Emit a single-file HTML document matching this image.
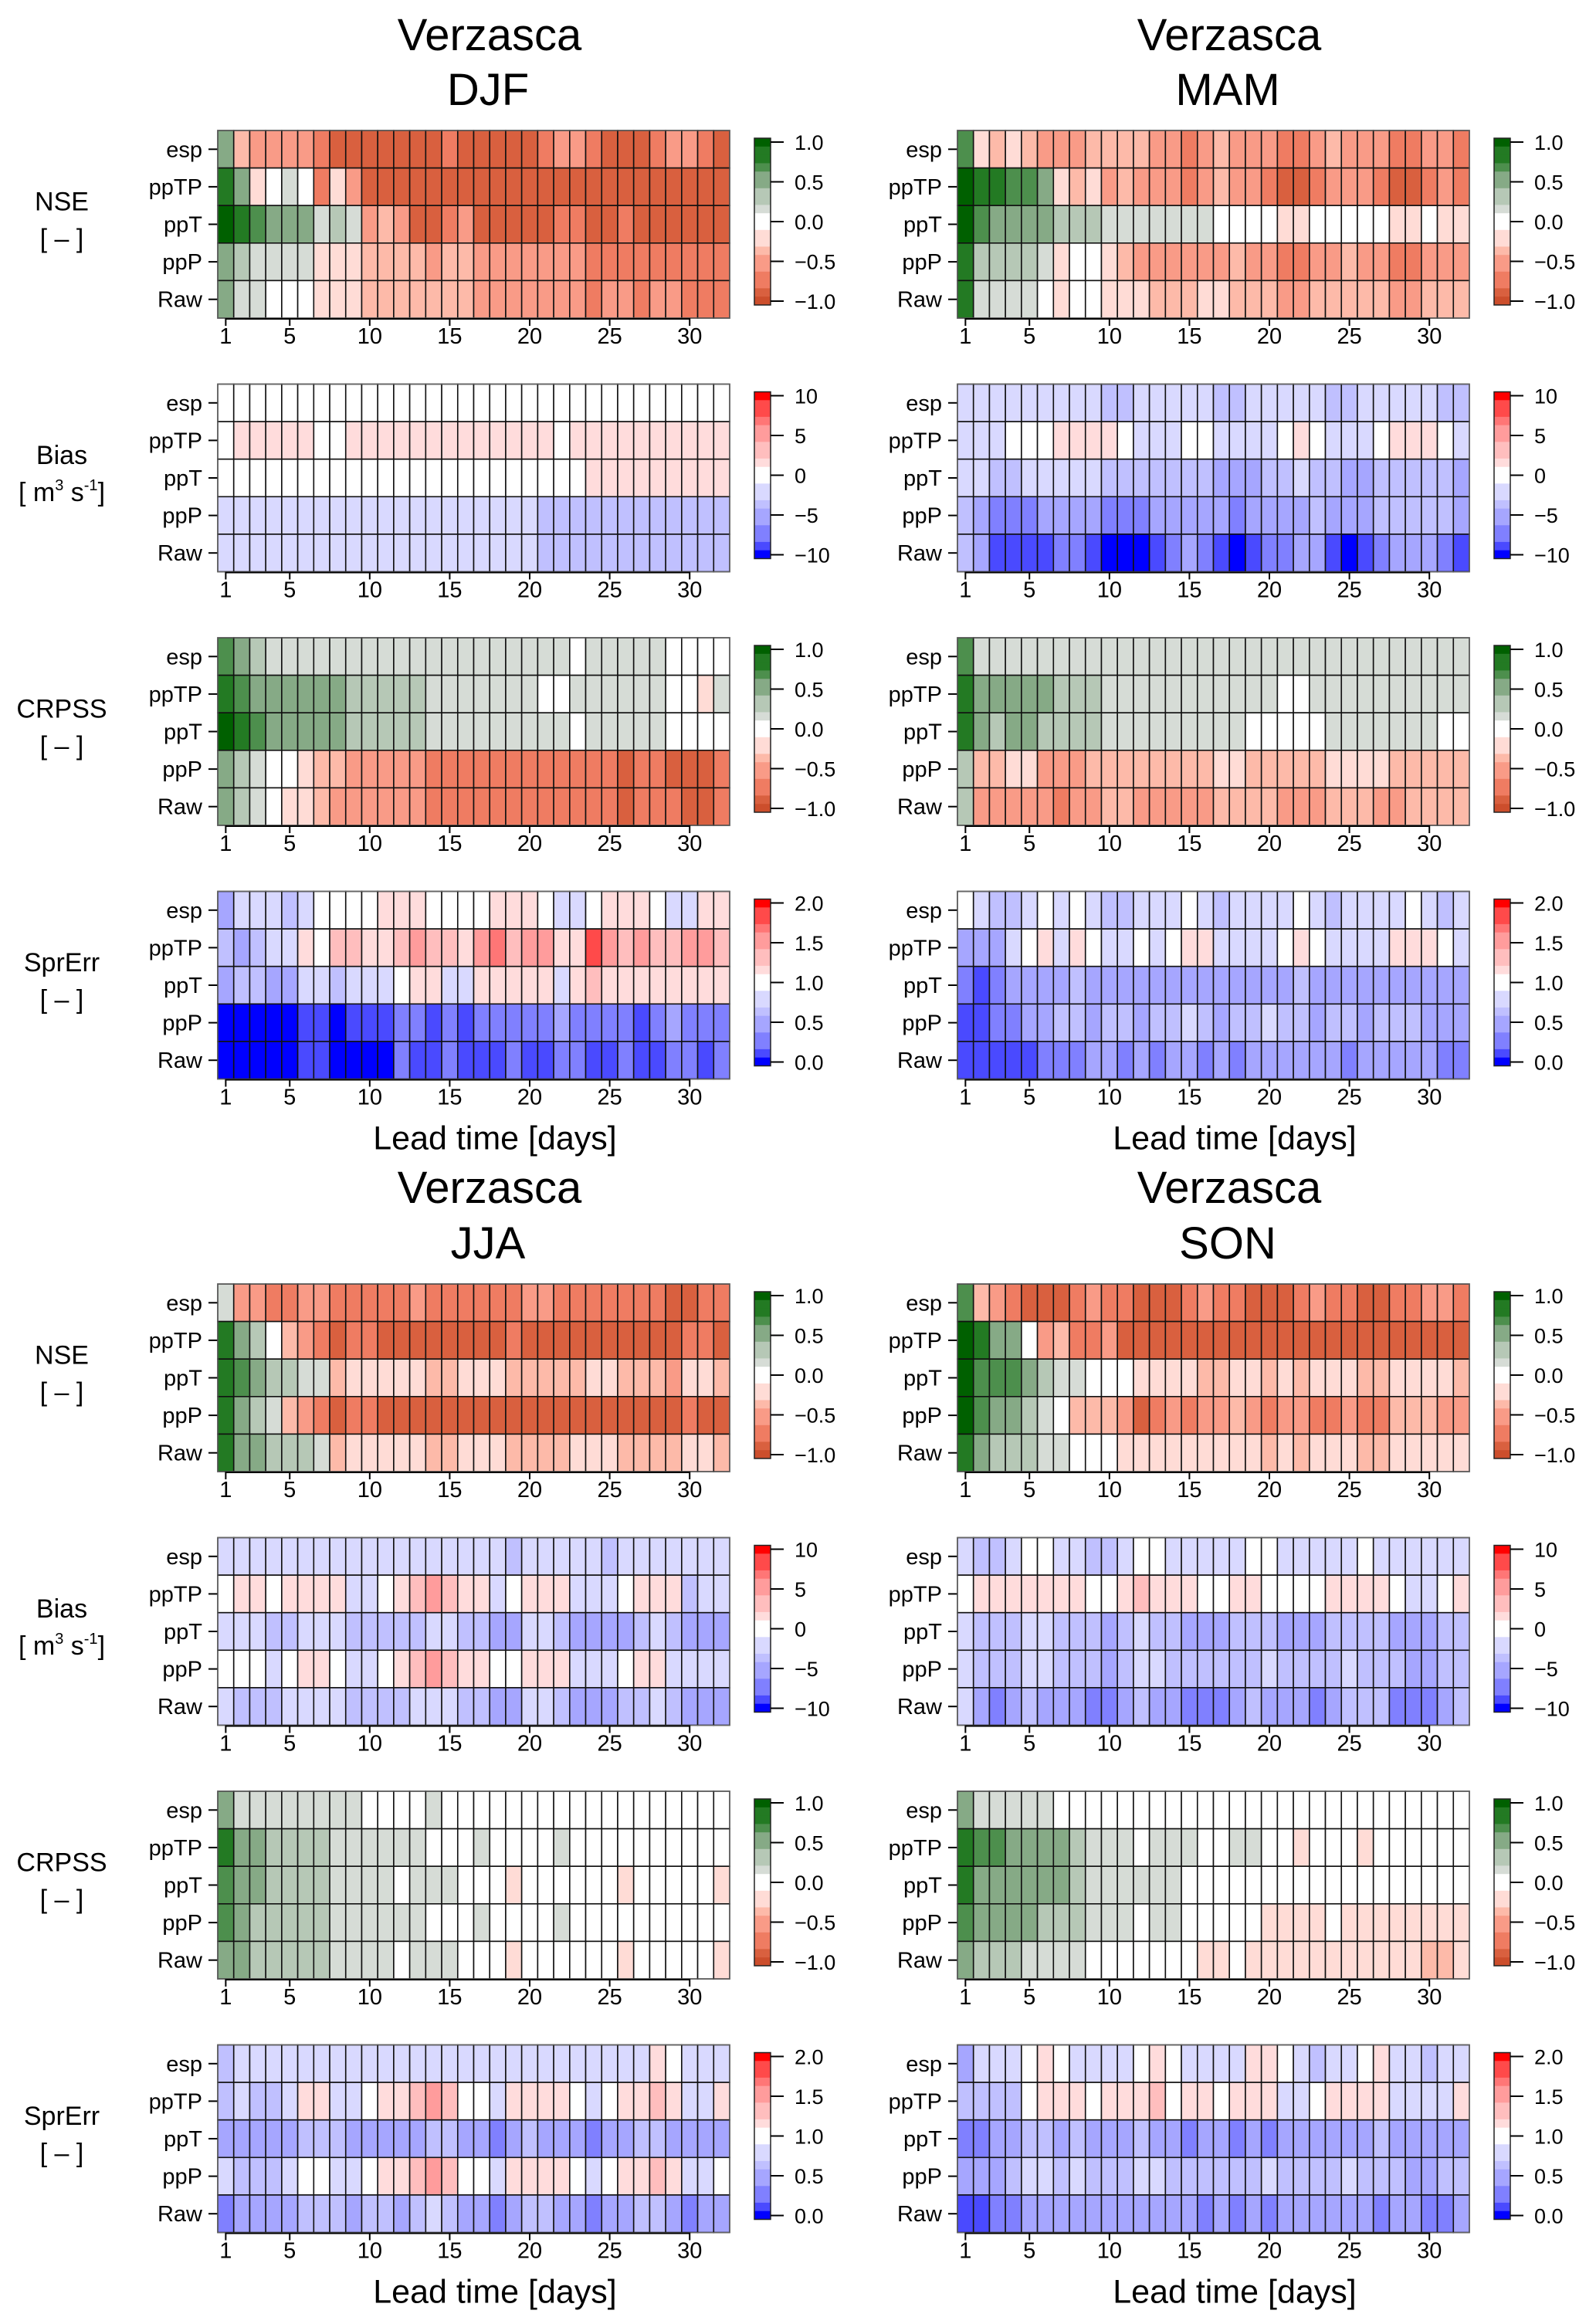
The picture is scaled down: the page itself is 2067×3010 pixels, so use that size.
<!DOCTYPE html>
<html><head><meta charset="utf-8"><title>Verzasca verification heatmaps</title>
<style>
html,body{margin:0;padding:0;background:#fff;}
svg{display:block;font-family:"Liberation Sans",Arial,sans-serif;}
</style></head>
<body>
<svg id="fig" xmlns="http://www.w3.org/2000/svg" width="2067" height="3010" viewBox="0 0 2067 3010"></svg>
<script>
// ---- data: level codes per cell ('0'..'6' positive, 'a'..'f' negative), rows esp, ppTP, ppT, ppP, Raw ----
const seasons = ["DJF", "MAM", "JJA", "SON"];
const rowNames = ["esp", "ppTP", "ppT", "ppP", "Raw"];
const leadTimes = Array.from({length: 32}, (_, i) => i + 1);
const xTickLabels = [1, 5, 10, 15, 20, 25, 30];
const metricNames = ["NSE", "Bias", "CRPSS", "SprErr"];
const nseTicks = ["1.0", "0.5", "0.0", "\u22120.5", "\u22121.0"];
const biasTicks = ["10", "5", "0", "\u22125", "\u221210"];
const sprTicks = ["2.0", "1.5", "1.0", "0.5", "0.0"];

const DJF_NSE = ["3bccccdeeeeeeedeeeeedccdeeedccde","53a010daceeeeeeeeeeeeeeeeeeeeeee","654333121cbceedceeeeeddeedeeeeee","321111aaabbbbcbbcccccccddddddddd","311000aaabbbbbbbcccccccdccdccddd"];
const DJF_BIAS = ["00000000000000000000000000000000","01111100111111111111101111111111","00000000000000000000000111111111","aaaaaaaaaaaaaaaaaaaabbbbbbbbbbbb","aaaaaaaaaaaaaaaaaaaabbbbbbbbbbbb"];
const DJF_CRPSS = ["43211111111111111111110111110000","54333333222221111111001111110 0a1".replace(/ /g,""),"65433333222221111111110111110000","32100abbcccccddddddddddddeddeeed","3210aabccccccddddddddddddedddeede"];
const DJF_SPR = ["caaaba000011100001110aa01110aa11","bcbaa10221123221342331153232 2332".replace(/ /g,""),"cbbccaabaaa011aa11111a1211111111","fffffeefeeeddededddddcddddedcdd".padEnd(32,"d"),"fffffeeffffdeedeeedeeddeedeedded"];

const MAM_NSE = ["4ababcccbbbbccdcbcccddcbcccddccd","655443abacbcccdcbccdeedcccdeedcd","6433332221111111 0000aa00000aa0aa".replace(/ /g,""),"522221a00abcccccc bccddccbccddccc".replace(/ /g,"").slice(0,32),"511110a00aaabbbaabbbccbbbbbccbbb"];
const MAM_BIAS = ["aaaaaaaaabbaaaaabbaaaaabbaaaaabb","aaa00011110aaa00aaaa010aaa01110a","aabbaaaaabbbbbbbcccbbabbccbbbbbc","bcdddccccdddcccccdccccbcccbbbbbc","bceeeeddefffedcdefeddccefedcccde"];
const MAM_CRPSS = ["41111111111111111111111111111111","53333322211111111111001111111111","53233222211111111100000111111100","2bbaacccbbbbbbbbaabbbbbaaaabbbbb","2cccccdccbbcccccbbbbcccbbbccbbbb"];
const MAM_SPR = ["0abba0a0abbaaa0abaaaa0abaaaa0aba","ccca01a10aa0a011aaaa010aaaa1110a","dedccccbcccccccccccccbcccccccccc","eeddccbbcbbcbbabcbbabbcbbcbbbccc","eeeeedddccdcdccdcdccccccdcccccdd"];

const JJA_NSE = ["1ccddccdddddcddddddccdddddddeeddd".slice(0,32),"5320bcdeddeeeeeeeedeeeeeeeeeedde","5432211baaaaabbaaabbbbbaabbbcaab","5321bcdeddeeeeeeeeeeeeeeeeeeedee","5332221baaaaabbaaabbbbaaabbbbaab"];
const JJA_BIAS = ["aaaaaaaaaaaaaaaaaabaaaaabaaaaaaa","01101111aa0123211a0111aaa0111baa","aaabbaaabbbbbaabbccaabccccbabccc","000a0110aa012321100111aaa011aaaa","abbbaaaabbbbaaabbccaabcccbbabccc"];
const JJA_CRPSS = ["31111111100001000000000000000000","53322221111110001000010000000000","4332222111101110 00a000000a00000a".replace(/ /g,""),"43222221111110001000010000000000","3322222111101110 00a000000a00000a".replace(/ /g,"")];
const JJA_SPR = ["baaaaaaaaaaaaaaaaaaaaaaaaaa10aaa","babba11aa01123200a11110a01121aa1","cccccbbbcccccbbccdcbcccdccbbcccc","abbba00aa01123200a11110a01121aa0","dccccbbbcbbcbabccdcbbccdccbbcdcc"];

const SON_NSE = ["4bcdeeedcddeeedcddeeedcddeeddccd","65330cbddceeeeeeeeeeeeeeeeeeeeee","64443211000aaaabbaababaaabbaaaab","6433210bbbcedcdccbcdccddcddbbbcc","5322211000aaaaaaaaababaaabbaaaaa"];
const SON_BIAS = ["abba00aabba00aaaaa00aaaaa0aaaaaa","0111111100121110011000011110aa01","abbbaabbbcbabbcccbbbcccbbbbcccbb","abbbaabbbcbaabbbbbbabbbbabbbccbb","acdcbcccddcbccdddcbcccdcbbbdddcb"];
const SON_CRPSS = ["31111100000000000000000000000000","544333321110111001100a000a000000","53333332111111000000000000000000","4333322211101100000aaaa0aaaaaaaa","322211110000000aa0aaaaaaaaaaabba"];
const SON_SPR = ["caaa010aaaa010aaaa110abaa01aabaa","bbbb0111011120110111aa01111aaaa1","ddccbbcbcccbccdccdcdccccccbcccccc".slice(0,32),"cccbaababbbaabbbbbbabbbbabbbccbb","eeddcccccccccccdcdcdccccccdccddcc".slice(0,32)];

const blocks = {
  DJF: [DJF_NSE, DJF_BIAS, DJF_CRPSS, DJF_SPR],
  MAM: [MAM_NSE, MAM_BIAS, MAM_CRPSS, MAM_SPR],
  JJA: [JJA_NSE, JJA_BIAS, JJA_CRPSS, JJA_SPR],
  SON: [SON_NSE, SON_BIAS, SON_CRPSS, SON_SPR]
};
// metric scales: center & half-range
const centers = [0, 0, 0, 1];
const halfRanges = [1, 10, 1, 1];

function codeToLevel(ch){
  if (ch >= "0" && ch <= "6") return +ch;
  const i = "abcdef".indexOf(ch);
  return i >= 0 ? -(i + 1) : 0;
}
function decode(rows, m){
  return rows.map(r => { const s = r.padEnd(32, r[r.length-1]).slice(0,32);
    return Array.from(s).map(ch => centers[m] + codeToLevel(ch) / 6 * halfRanges[m]); });
}

const GR_POS = ["#ffffff","#d6dcd6","#b6c8b6","#86aa86","#4d8f4d","#237a23","#006000"];
const GR_NEG = ["#ffffff","#ffdcd6","#fdbaa9","#f99b87","#ef7c62","#d9603f","#cc4e2c"];
const BR_POS = ["#ffffff","#ffdcdc","#ffbebe","#ff9c9c","#ff7676","#ff4a4a","#ff0000"];
const BR_NEG = ["#ffffff","#d9d9ff","#c0c0ff","#a6a6ff","#8080ff","#4a4aff","#0000ff"];
function colorFor(v, m){
  let L = Math.round((v - centers[m]) / halfRanges[m] * 6);
  L = Math.max(-6, Math.min(6, L));
  const green = (m === 0 || m === 2);
  if (L >= 0) return (green ? GR_POS : BR_POS)[L];
  return (green ? GR_NEG : BR_NEG)[-L];
}

const NS = "http://www.w3.org/2000/svg";
const svg = document.getElementById("fig");
function el(tag, attrs, parent, text){
  const e = document.createElementNS(NS, tag);
  for (const k in attrs) e.setAttribute(k, attrs[k]);
  if (text !== undefined) e.textContent = text;
  (parent || svg).appendChild(e);
  return e;
}

const HM_W = 663, HM_H = 243, CELL_W = HM_W / 32, CELL_H = HM_H / 5;
function xScale(left, lead){ return left + (lead - 0.5) * CELL_W; }
function yScale(top, row){ return top + row * CELL_H; }

seasons.forEach((season, si) => {
  const col = si % 2, blk = Math.floor(si / 2);
  const left = 282 + col * 958;
  const blockTop = 169 + blk * 1494;
  const g = el("g", {});
  
  
  const t1 = el("text", {x: left + 352, y: blockTop - 104 + (blk ? 0 : 0), "font-size": 58, "text-anchor": "middle"}, g, "Verzasca");
  
  
  t1.setAttribute('y', 65 + blk * 1493);
  const t2 = el("text", {x: left + 350, y: 136 + blk * 1494, "font-size": 58, "text-anchor": "middle"}, g, season);
  
  

  blocks[season].forEach((rows, m) => {
    const vals = decode(rows, m);
    const top = blockTop + m * 328.5;
    const pg = el("g", {}, g);
    
    
    vals.forEach((rowVals, r) => {
      rowVals.forEach((v, c) => {
        const rect = el("rect", {x: xScale(left, leadTimes[c]) - CELL_W/2, y: yScale(top, r), width: CELL_W, height: CELL_H, fill: colorFor(v, m), stroke: "#111", "stroke-width": 1.6}, pg);
        
        
      });
      const yc = yScale(top, r) + CELL_H / 2;
      el("line", {x1: left - 12, x2: left, y1: yc, y2: yc, stroke: "#000", "stroke-width": 2}, pg);
      const rl = el("text", {x: left - 20, y: yc + 10, "font-size": 29, "text-anchor": "end"}, pg, rowNames[r]);
      
      
    });
    el("rect", {x: left, y: top, width: HM_W, height: HM_H, fill: "none", stroke: "#666", "stroke-width": 1.2}, pg);
    // x axis
    const bottom = top + HM_H;
    el("line", {x1: xScale(left, 1), x2: xScale(left, 30), y1: bottom + 1, y2: bottom + 1, stroke: "#000", "stroke-width": 2}, pg);
    xTickLabels.forEach(t => {
      el("line", {x1: xScale(left, t), x2: xScale(left, t), y1: bottom, y2: bottom + 10, stroke: "#000", "stroke-width": 2}, pg);
      const tl = el("text", {x: xScale(left, t), y: bottom + 33, "font-size": 29, "text-anchor": "middle"}, pg, String(t));
      
      
    });
    // metric label (left column only)
    if (col === 0) {
      const yc = top + HM_H / 2;
      const ml = el("text", {x: 80, y: yc - 18, "font-size": 34, "text-anchor": "middle"}, pg, metricNames[m]);
      
      
      const ul = el("text", {x: 80, y: yc + 30, "font-size": 34, "text-anchor": "middle"}, pg);
      
      
      if (m === 1) {
        ul.textContent = "[ m";
        el("tspan", {"font-size": 20, dy: -14}, ul, "3");
        el("tspan", {dy: 14}, ul, " s");
        el("tspan", {"font-size": 20, dy: -14}, ul, "-1");
        el("tspan", {dy: 14}, ul, "]");
      } else {
        ul.textContent = "[ \u2013 ]";
      }
    }
    // colorbar
    const cbx = 977 + col * 958, cbTop = top + 10, cbBot = top + 226;
    const cg = el("g", {}, pg);
    
    
    const nb = 20, bh = (cbBot - cbTop) / nb;
    const vmin = centers[m] - halfRanges[m], vmax = centers[m] + halfRanges[m];
    for (let b = 0; b < nb; b++) {
      const v = vmax - (b + 0.5) / nb * (vmax - vmin);
      el("rect", {x: cbx, y: cbTop + b * bh, width: 21, height: bh + 0.5, fill: colorFor(v, m), stroke: "none"}, cg);
    }
    el("rect", {x: cbx, y: cbTop, width: 21, height: cbBot - cbTop, fill: "none", stroke: "#222", "stroke-width": 1.5}, cg);
    const ticks = m === 1 ? biasTicks : (m === 3 ? sprTicks : nseTicks);
    ticks.forEach((lab, k) => {
      const ty = cbTop + 5 + k * ((cbBot - cbTop - 10) / 4);
      el("line", {x1: cbx + 21, x2: cbx + 38, y1: ty, y2: ty, stroke: "#000", "stroke-width": 2}, cg);
      const cl = el("text", {x: cbx + 52, y: ty + 10, "font-size": 27}, cg, lab);
      
      
    });
  });
  const lt = el("text", {x: left + 359, y: blockTop + 3 * 328.5 + HM_H + 91, "font-size": 43, "text-anchor": "middle"}, g, "Lead time [days]");
  
  
});
</script>
</body></html>
